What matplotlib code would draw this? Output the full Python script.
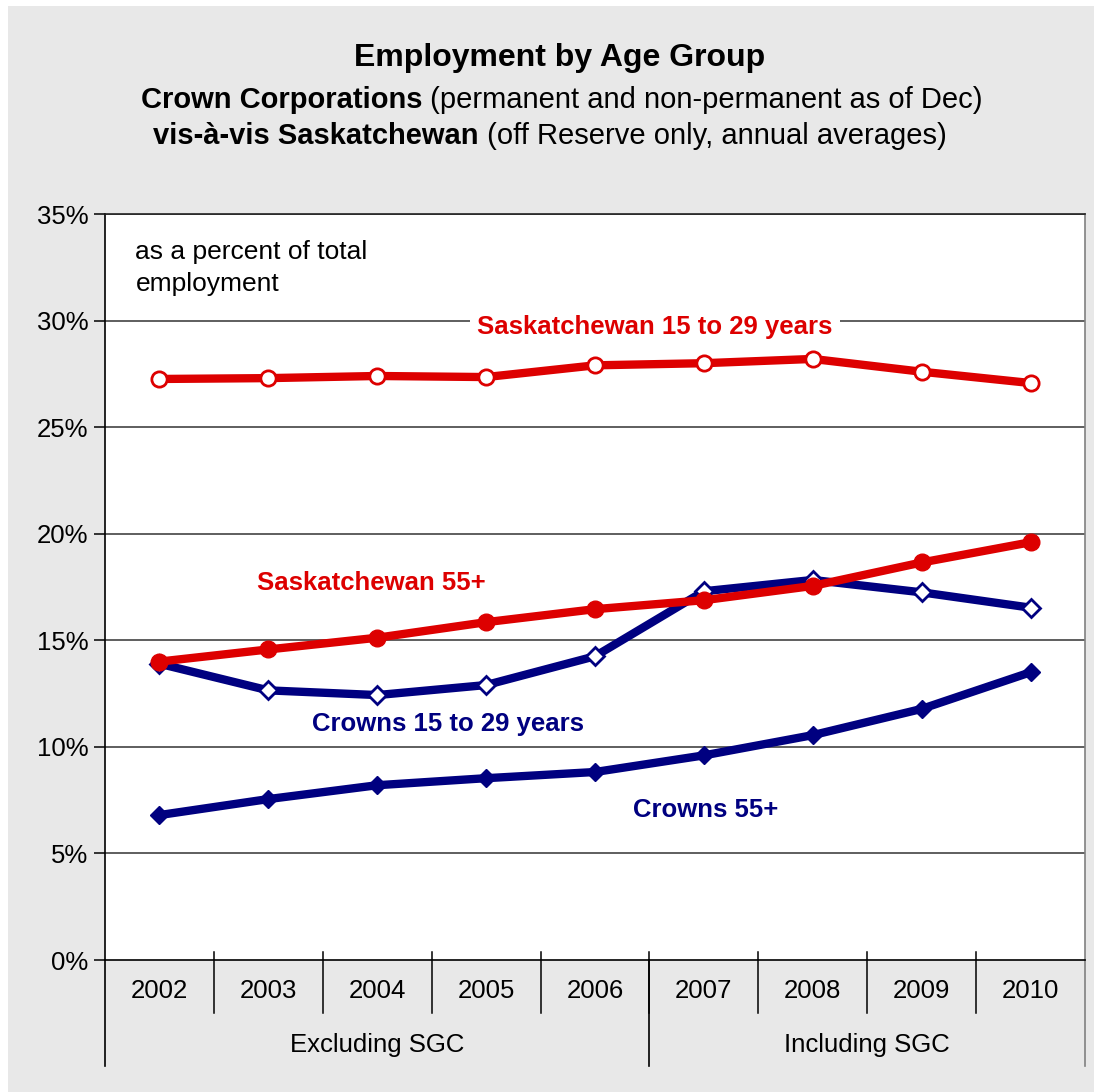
import matplotlib
matplotlib.use("Agg")
import matplotlib.pyplot as plt
import matplotlib.transforms as mtransforms

plt.rcParams['font.family'] = ['Liberation Sans', 'DejaVu Sans']

# datos del grafico (porcentaje del empleo total)
years = ['2002', '2003', '2004', '2005', '2006', '2007', '2008', '2009', '2010']
groups = ['Excluding SGC', 'Including SGC']
group_sizes = [5, 4]
sask_15_29 = [27.26, 27.30, 27.40, 27.35, 27.90, 28.00, 28.20, 27.60, 27.07]
sask_55 = [14.00, 14.57, 15.12, 15.85, 16.46, 16.88, 17.55, 18.65, 19.60]
crowns_15_29 = [13.90, 12.65, 12.43, 12.90, 14.25, 17.30, 17.83, 17.25, 16.53]
crowns_55 = [6.80, 7.55, 8.20, 8.53, 8.82, 9.60, 10.55, 11.78, 13.50]
yticks = [0, 5, 10, 15, 20, 25, 30, 35]

RED = '#dd0000'
NAVY = '#000080'
GRIS = '#e8e8e8'
FS = 18.5
W_PX, H_PX = 1094, 1092

fig = plt.figure(figsize=(W_PX/100, H_PX/100), dpi=100, facecolor='white')
# fondo gris del area del grafico
fig.patches.append(plt.Rectangle((8/W_PX, 0), 1, 1 - 6/H_PX, transform=fig.transFigure,
                                 facecolor=GRIS, edgecolor='none', zorder=-10))
ax = fig.add_axes([105/W_PX, 1 - 960/H_PX, 980/W_PX, 746/H_PX])
ax.set_facecolor('white')

x = list(range(len(years)))
ax.set_xlim(-0.5, len(years) - 0.5)
ax.set_ylim(0, 35)

for y in yticks[1:]:
    ax.axhline(y, color='#333333', lw=1.1, zorder=1)

ax.plot(x, crowns_55, color=NAVY, lw=6, marker='D', ms=9, mfc=NAVY, mec=NAVY, zorder=3)
ax.plot(x, crowns_15_29, color=NAVY, lw=6, marker='D', ms=9, mfc='white', mec=NAVY, mew=2, zorder=3)
ax.plot(x, sask_55, color=RED, lw=6, marker='o', ms=12, mfc=RED, mec=RED, zorder=4)
ax.plot(x, sask_15_29, color=RED, lw=6, marker='o', ms=11, mfc='white', mec=RED, mew=2, zorder=4)

# ejes y bordes
ax.spines['right'].set_color('#808080')
ax.spines['top'].set_color('#222222')
ax.spines['left'].set_color('black')
ax.spines['bottom'].set_color('black')
for s in ax.spines.values():
    s.set_linewidth(1.2)

ax.set_yticks(yticks)
ax.set_yticklabels([f'{v}%' for v in yticks], fontsize=FS)
ax.tick_params(axis='y', length=8, width=1.1, pad=4, color='black')
ax.set_xticks([])

# eje de categorias con dos niveles
tr = mtransforms.blended_transform_factory(ax.transData, ax.transAxes)
for i in range(1, len(years)):
    ax.plot([i - 0.5, i - 0.5], [0.0107, -0.071], color='black', lw=1.1,
            transform=tr, clip_on=False)
for i, yr in enumerate(years):
    ax.text(i, -0.042, yr, transform=tr, ha='center', va='center', fontsize=FS)

start = 0
edges = [-0.5]
for name, n in zip(groups, group_sizes):
    ax.text(start + (n - 1) / 2, -0.114, name, transform=tr, ha='center', va='center',
            fontsize=FS)
    start += n
    edges.append(start - 0.5)
for k, e in enumerate(edges):
    col = '#808080' if k == len(edges) - 1 else 'black'
    ax.plot([e, e], [0, -0.142], color=col, lw=1.2, transform=tr, clip_on=False)

# textos
ax.text(0.031, (960 - 252) / 746, 'as a percent of total', transform=ax.transAxes,
        ha='left', va='center', fontsize=19)
ax.text(0.031, (960 - 284) / 746, 'employment', transform=ax.transAxes,
        ha='left', va='center', fontsize=19)
ax.text(4.55, 29.7, 'Saskatchewan 15 to 29 years', color=RED, fontsize=FS, fontweight='bold',
        ha='center', va='center', zorder=5,
        bbox=dict(facecolor='white', edgecolor='none', pad=5))
ax.text(1.95, 17.7, 'Saskatchewan 55+', color=RED, fontsize=FS, fontweight='bold',
        ha='center', va='center')
ax.text(2.65, 11.05, 'Crowns 15 to 29 years', color=NAVY, fontsize=FS, fontweight='bold',
        ha='center', va='center')
ax.text(5.02, 7.05, 'Crowns 55+', color=NAVY, fontsize=FS, fontweight='bold',
        ha='center', va='center')

fig.text(560/W_PX, 1 - 58/H_PX, 'Employment by Age Group', ha='center', va='center',
         fontsize=23, fontweight='bold')

# lineas del subtitulo con parte en negrita
def linea_mixta(xc, y, bold, normal):
    fig.canvas.draw()
    r = fig.canvas.get_renderer()
    t1 = fig.text(0, y, bold, fontsize=21, fontweight='bold', va='center')
    t2 = fig.text(0, y, normal, fontsize=21, va='center')
    w1 = t1.get_window_extent(r).width
    w2 = t2.get_window_extent(r).width
    W = fig.bbox.width
    x0 = xc * W - (w1 + w2) / 2
    t1.set_x(x0 / W)
    t2.set_x((x0 + w1) / W)

linea_mixta(562/W_PX, 1 - 100/H_PX, 'Crown Corporations', ' (permanent and non-permanent as of Dec)')
linea_mixta(550/W_PX, 1 - 136/H_PX, 'vis-à-vis Saskatchewan', ' (off Reserve only, annual averages)')

fig.savefig('out.png', dpi=100, facecolor='white')
